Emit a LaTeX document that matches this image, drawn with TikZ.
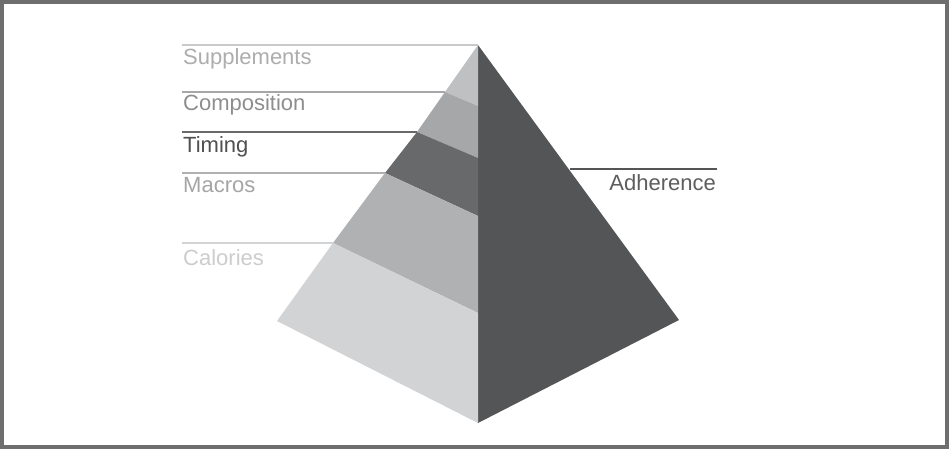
\documentclass[tikz,border=0pt]{standalone}
\usepackage{fontspec}
\setmainfont{Liberation Sans}
\definecolor{frame}{HTML}{6E6E6E}
\definecolor{cSup}{HTML}{BFC0C2}
\definecolor{cCom}{HTML}{A6A7A9}
\definecolor{cTim}{HTML}{68696B}
\definecolor{cMac}{HTML}{B0B1B3}
\definecolor{cCal}{HTML}{D2D3D5}
\definecolor{cRight}{HTML}{545557}
\definecolor{tSup}{HTML}{ADADAD}
\definecolor{tCom}{HTML}{8E8E8E}
\definecolor{tTim}{HTML}{505050}
\definecolor{tMac}{HTML}{A5A5A5}
\definecolor{tCal}{HTML}{CDCDCD}
\definecolor{tAdh}{HTML}{5E5E5E}
\begin{document}
\begin{tikzpicture}[x=1pt,y=-1pt,
  lbl/.style={font=\fontsize{22}{24}\selectfont, inner sep=0pt, anchor=base west},
  leader/.style={line width=2pt}]
\useasboundingbox (0,0) rectangle (949,449);
\fill[white] (0,0) rectangle (949,449);
\draw[frame, line width=4pt] (2,2) rectangle (947,447);
% key points
\coordinate (A) at (478,45);
\coordinate (L) at (277,321);
\coordinate (B) at (478,423);
\coordinate (R) at (679,320);
\coordinate (l1) at (445,92);  \coordinate (c1) at (478,106);
\coordinate (l2) at (417,132); \coordinate (c2) at (478,158);
\coordinate (l3) at (385,173); \coordinate (c3) at (478,216);
\coordinate (l4) at (333,243); \coordinate (c4) at (478,313);
% faces
\fill[cRight] (A) -- (R) -- (B) -- cycle;
\fill[cSup] (A) -- (l1) -- (c1) -- cycle;
\fill[cCom] (l1) -- (l2) -- (c2) -- (c1) -- cycle;
\fill[cTim] (l2) -- (l3) -- (c3) -- (c2) -- cycle;
\fill[cMac] (l3) -- (l4) -- (c4) -- (c3) -- cycle;
\fill[cCal] (l4) -- (L) -- (B) -- (c4) -- cycle;
% labels
\node[lbl, text=tSup] (sup) at (183,65) {Supplements};
\node[lbl, text=tCom] (com) at (183,111) {Composition};
\node[lbl, text=tTim] (tim) at (183,153) {Timing};
\node[lbl, text=tMac] (mac) at (183,193) {Macros};
\node[lbl, text=tCal] (cal) at (183,265) {Calories};
\node[lbl, text=tAdh, anchor=base east] (adh) at (716,190) {Adherence};
% leader lines
\coordinate (s0) at (182,45);
\coordinate (k0) at (182,92);
\coordinate (t0) at (182,132);
\coordinate (m0) at (182,173);
\coordinate (a0) at (182,243);
\coordinate (h0) at (570,169);
\coordinate (h1) at (717,169);
\draw[leader, color=cSup!85] (s0) -- (A);
\draw[leader, color=cCom] (k0) -- (l1);
\draw[leader, color=cTim] (t0) -- (l2);
\draw[leader, color=cMac] (m0) -- (l3);
\draw[leader, color=cCal] (a0) -- (l4);
\draw[leader, color=cRight] (h0) -- (h1);
\end{tikzpicture}
\end{document}
